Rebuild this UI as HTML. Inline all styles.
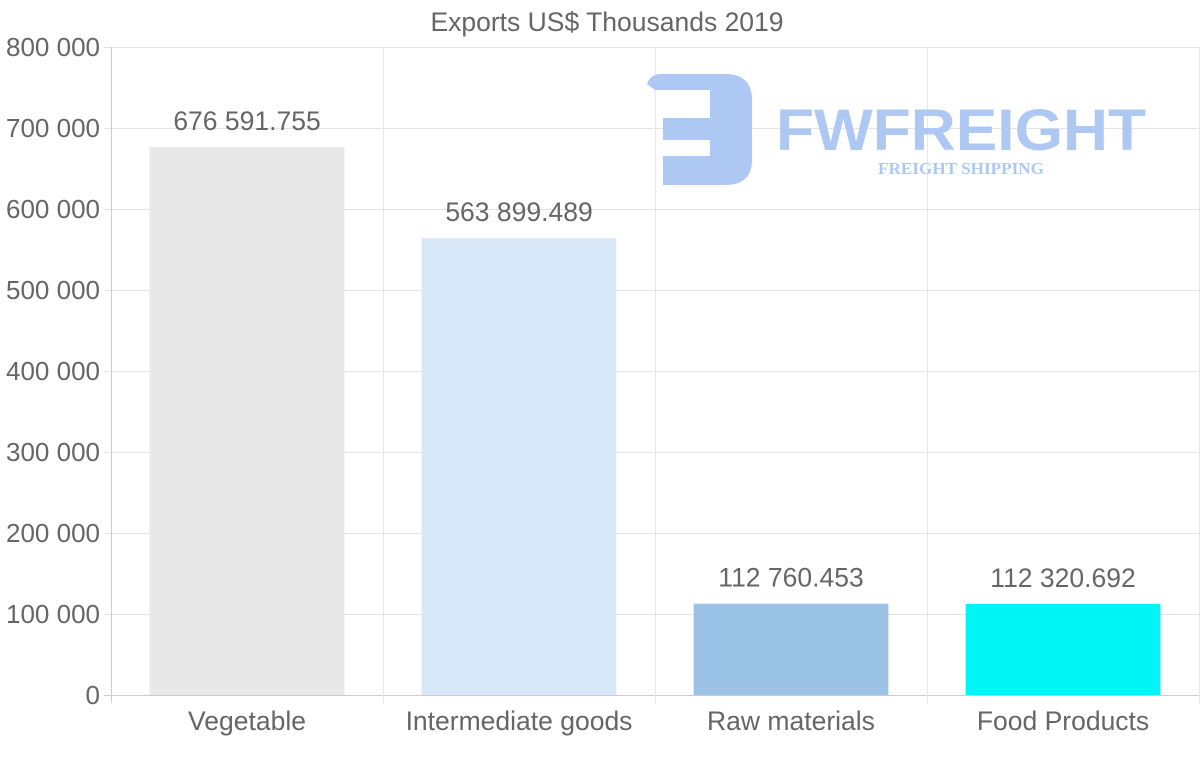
<!DOCTYPE html>
<html><head><meta charset="utf-8"><style>
body{margin:0;background:#fff;}
svg{display:block;font-family:"Liberation Sans",sans-serif;}
</style></head><body>
<svg id="chart" width="1200" height="763" viewBox="0 0 1200 763">
<text x="607" y="31" text-anchor="middle" font-size="26.5" fill="#666">Exports US$ Thousands 2019</text>
<g id="grid"></g>
<g id="logo" fill="#adc8f2">
<path d="M647 84 Q650 74 662 74 L725 74 Q752 74 752 100 L752 160 Q752 185 725 185 L663 185 L663 156 L710 156 L710 140 L663 140 L663 118 L710 118 L710 90 L655 90 Z"/>
<text x="776" y="150" font-size="58" font-weight="bold" textLength="370" lengthAdjust="spacingAndGlyphs">FWFREIGHT</text>
<text x="878" y="174" font-family="Liberation Serif,serif" font-size="17" font-weight="bold" textLength="166" lengthAdjust="spacingAndGlyphs">FREIGHT SHIPPING</text>
</g>
<g id="bars"></g>
</svg>
<script>
const categories=["Vegetable","Intermediate goods","Raw materials","Food Products"];
const values=[676591.755,563899.489,112760.453,112320.692];
const valueLabels=["676 591.755","563 899.489","112 760.453","112 320.692"];
const yTicks=[0,100000,200000,300000,400000,500000,600000,700000,800000];
const yTickLabels=["0","100 000","200 000","300 000","400 000","500 000","600 000","700 000","800 000"];
const colors=["#e8e8e8","#d8e8f8","#9bc3e6","#00f5f7"];
const NS="http://www.w3.org/2000/svg";
const X0=111,X1=1199,Y0=695,Y1=47,YMAX=800000;
const bw=(X1-X0)/categories.length;
const y=v=>Y0-(v/YMAX)*(Y0-Y1);
const xc=i=>X0+bw*(i+0.5);
function mk(t,a,p){const e=document.createElementNS(NS,t);for(const k in a)e.setAttribute(k,a[k]);p.appendChild(e);return e;}
const grid=document.getElementById('grid'),bars=document.getElementById('bars');
yTicks.forEach((v,i)=>{
  const l=mk('line',{x1:104,x2:X1,y1:y(v)+0.5,y2:y(v)+0.5,stroke:i==0?'#ccc':'#e4e4e4','stroke-width':1},grid);
  
  
  const t=mk('text',{x:100,y:y(v)+9,'text-anchor':'end','font-size':26,fill:'#666'},grid);
  t.textContent=yTickLabels[i];
  
  
});
for(let i=0;i<=categories.length;i++){
  const x=Math.round(X0+bw*i)+0.5;
  const l=mk('line',{x1:x,x2:x,y1:Y1,y2:Y0+8,stroke:i==0?'#ccc':'#e8e8e8','stroke-width':1},grid);
  
  
}
categories.forEach((c,i)=>{
  const w=bw*0.716;
  const r=mk('rect',{x:xc(i)-w/2,y:y(values[i]),width:w,height:Y0-y(values[i]),fill:colors[i]},bars);
  
  
  const t=mk('text',{x:xc(i),y:y(values[i])-17,'text-anchor':'middle','font-size':26.5,fill:'#666'},bars);
  t.textContent=valueLabels[i];
  
  
  const xl=mk('text',{x:xc(i),y:730,'text-anchor':'middle','font-size':26.5,fill:'#666'},bars);
  xl.textContent=c;
  
  
});
</script>
</body></html>
